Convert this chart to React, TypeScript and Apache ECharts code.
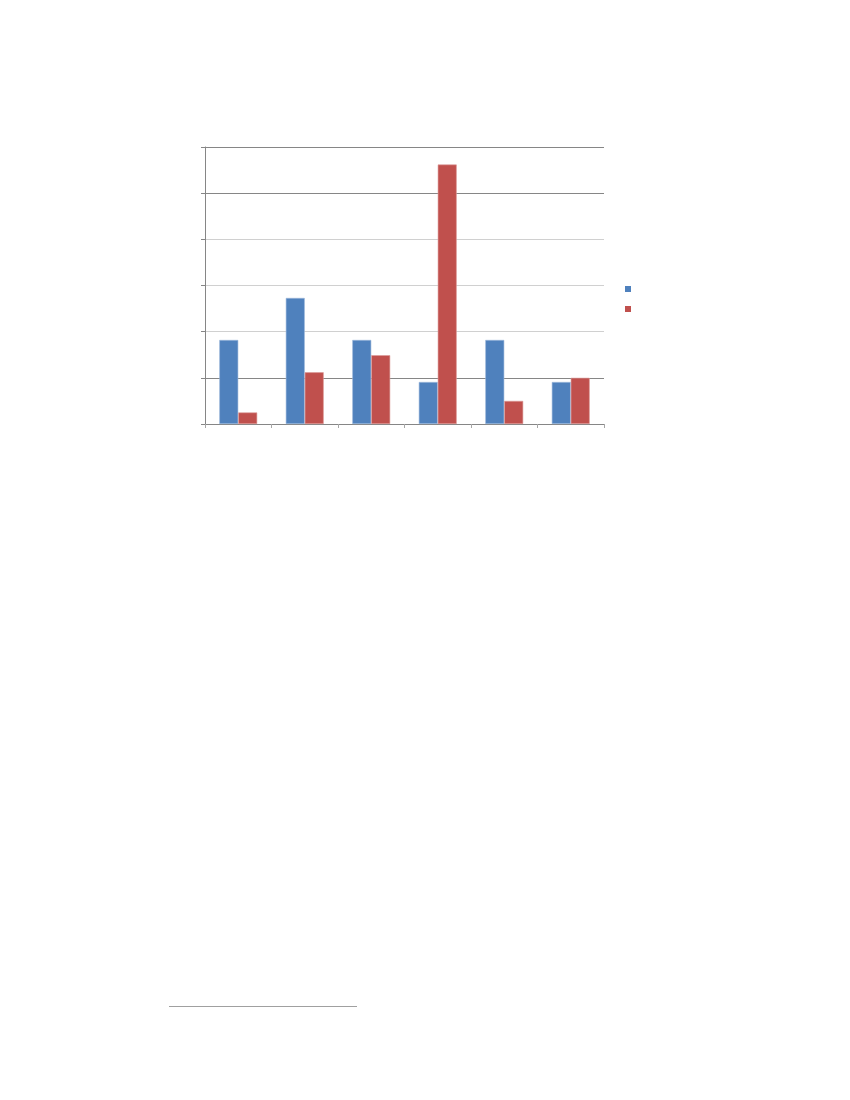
import * as echarts from "echarts";
import { useEffect, useRef } from "react";

const categories = ["A", "B", "C", "D", "E", "F"];
const seriesNames = ["Series 1", "Series 2"];
const blueValues = [18.2, 27.3, 18.2, 9.1, 18.2, 9.1];
const redValues = [2.5, 11.2, 14.9, 56.2, 5.0, 10.0];
const yTicks = [0, 10, 20, 30, 40, 50, 60];

const App = () => {
  const chartRef: any = useRef(null);

  useEffect(() => {
    const myChart = echarts.init(chartRef.current, null, { renderer: "svg" });
    myChart.setOption({
      animation: false,
      grid: { left: 205, top: 147, width: 399, height: 277 },
      legend: {
        show: true,
        orient: "vertical",
        left: 625,
        top: 286,
        padding: 0,
        itemWidth: 6,
        itemHeight: 6,
        itemGap: 14,
        icon: "rect",
        itemStyle: { borderWidth: 0 },
        formatter: () => "",
        data: seriesNames,
      },
      xAxis: {
        type: "category",
        data: categories,
        axisLine: { lineStyle: { color: "#868686", width: 1 } },
        axisTick: { show: true, length: 4, lineStyle: { color: "#a6a6a6" } },
        axisLabel: { show: false },
      },
      yAxis: {
        type: "value",
        min: yTicks[0],
        max: yTicks[yTicks.length - 1],
        interval: 10,
        axisLine: { show: true, lineStyle: { color: "#868686", width: 1 } },
        axisTick: { show: true, length: 4, lineStyle: { color: "#868686" } },
        axisLabel: { show: false },
        splitLine: {
          lineStyle: {
            // 网格线颜色
            color: ["#868686", "#868686", "#d0d0d0", "#d0d0d0", "#d0d0d0", "#868686", "#868686"],
            width: 1,
          },
        },
      },
      series: [
        {
          name: seriesNames[0],
          type: "bar",
          data: blueValues,
          barGap: "0%",
          barCategoryGap: "43%",
          itemStyle: { color: "#4F81BD", borderColor: "#9cb8dc", borderWidth: 0.6 },
        },
        {
          name: seriesNames[1],
          type: "bar",
          data: redValues,
          barGap: "0%",
          barCategoryGap: "43%",
          itemStyle: { color: "#C0504D", borderColor: "#dc9a98", borderWidth: 0.6 },
        },
      ],
      graphic: [
        {
          type: "line",
          shape: { x1: 169, y1: 1006.5, x2: 357, y2: 1006.5 },
          style: { stroke: "#a0a0a0", lineWidth: 1.2 },
        },
      ],
    });
    return () => {
      myChart && myChart.dispose();
    };
  }, []);

  return (
    <div
      ref={chartRef}
      style={{ position: "absolute", left: 0, top: 0, width: "850px", height: "1100px" }}
    ></div>
  );
};

export default App;
